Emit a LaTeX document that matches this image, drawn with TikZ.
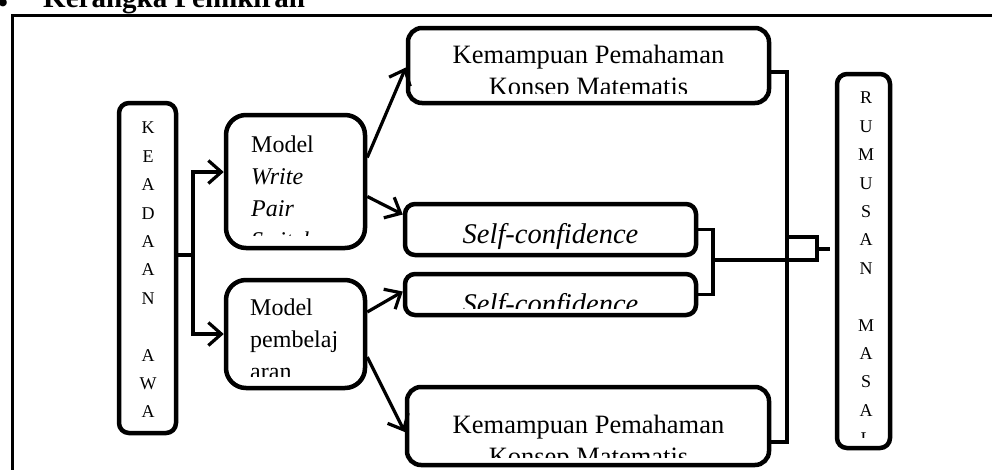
\documentclass[tikz,border=0pt]{standalone}
\usepackage{fontspec}
\setmainfont{Liberation Serif}
\usetikzlibrary{arrows.meta, positioning, calc}

\begin{document}
\begin{tikzpicture}[x=1pt, y=-1pt,
    kotak/.style={draw, line width=4.5pt, rounded corners=14pt, inner sep=0pt},
    garis/.style={line width=3.2pt},
    panah/.style={line width=3.2pt, -{Straight Barb[length=13pt, width=23pt]}},
    huruf/.style={align=center, inner sep=0pt, font=\fontsize{18}{28.4}\selectfont},
    isi/.style={inner sep=0pt, font=\fontsize{24}{32}\selectfont},
    isibesar/.style={align=center, inner sep=0pt, font=\fontsize{26.5}{32}\selectfont},
    isisc/.style={inner sep=0pt, font=\itshape\fontsize{28.5}{30}\selectfont}]
    \clip (0,0) rectangle (992,469);

    % judul (terpotong di atas)
    \node[anchor=base, inner sep=0pt, font=\fontsize{29}{30}\selectfont\bfseries] (bullet) at (3,12) {•};
    \node[anchor=base west, inner sep=0pt, font=\fontsize{29}{30}\selectfont\bfseries] (judul) at (43,7) {Kerangka Pemikiran};
    \draw[line width=3pt] (12,480) -- (12,15) -- (1000,15);

    % keadaan awal
    \node[kotak, rounded corners=10pt, minimum width=57pt, minimum height=330pt] (keadaan) at (147.5,268) {};
    \node[huruf, anchor=north] (txtkeadaan) at (148,122) {K\\E\\A\\D\\A\\A\\N\\~\\A\\W\\A};

    % dua model
    \node[kotak, rounded corners=20pt, minimum width=139pt, minimum height=133pt] (model1) at (295.5,181.5) {};
    \begin{scope}
        \clip (model1.north west) rectangle (369,235);
        \node[isi, anchor=north west, align=left] (txtmodel1) at (251,135.3) {Model\\\textit{Write}\\\textit{Pair}\\\textit{Switch}};
    \end{scope}
    \node[kotak, rounded corners=20pt, minimum width=139pt, minimum height=108pt] (model2) at (295.5,334) {};
    \begin{scope}
        \clip (model2.north west) rectangle (369,376);
        \node[isi, anchor=north west, align=left] (txtmodel2) at (250,298.3) {Model\\pembelaj\\aran};
    \end{scope}

    % variabel
    \node[kotak, minimum width=361pt, minimum height=75pt] (kpk1) at (588.5,65.5) {};
    \begin{scope}
        \clip (kpk1.north west) rectangle (773,93);
        \node[isibesar, anchor=north] (txtkpk1) at (588.5,45) {Kemampuan Pemahaman\\Konsep Matematis};
    \end{scope}
    \node[kotak, rounded corners=10pt, minimum width=291pt, minimum height=51pt] (sc1) at (550.5,229.5) {};
    \node[isisc, anchor=base] (txtsc1) at (550.5,243) {Self-confidence};
    \node[kotak, rounded corners=10pt, minimum width=291pt, minimum height=41pt] (sc2) at (550.5,294.5) {};
    \begin{scope}
        \clip (sc2.north west) rectangle (698,308);
        \node[isisc, anchor=base] (txtsc2) at (550.5,313) {Self-confidence};
    \end{scope}
    \node[kotak, minimum width=362pt, minimum height=78pt] (kpk2) at (588,426) {};
    \begin{scope}
        \clip (kpk2.north west) rectangle (773,457);
        \node[isibesar, anchor=north] (txtkpk2) at (588.5,415) {Kemampuan Pemahaman\\Konsep Matematis};
    \end{scope}

    % rumusan masalah
    \node[kotak, rounded corners=10pt, minimum width=53pt, minimum height=374pt] (rumusan) at (863.5,261) {};
    \begin{scope}
        \clip (rumusan.north west) rectangle (892,437);
        \node[huruf, anchor=north] (txtrumusan) at (866,92) {R\\U\\M\\U\\S\\A\\N\\~\\M\\A\\S\\A\\L};
    \end{scope}

    % panah dari keadaan awal
    \coordinate (cabang) at (193,255);
    \draw[garis] (keadaan.east |- cabang) -- (cabang);
    \draw[panah] (cabang) |- ([yshift=9.5pt]model1.west);
    \draw[panah] (cabang) |- (model2.west);

    % panah dari model
    \draw[panah] ([yshift=24pt]model1.east) -- ([yshift=-2pt]kpk1.west);
    \draw[panah] ([yshift=-15pt]model1.east) -- ([yshift=15pt]sc1.west);
    \draw[panah] ([yshift=22pt]model2.east) -- ([yshift=3pt]sc2.west);
    \draw[panah] ([yshift=-23pt]model2.east) -- ([yshift=-6pt]kpk2.west);

    % penghubung ke rumusan
    \coordinate (bustop) at (787,72);
    \coordinate (busbot) at (787,442);
    \draw[garis] (kpk1.east |- bustop) -- (bustop) -- (busbot) -- (kpk2.east |- busbot);
    \coordinate (scbr) at (713,260);
    \draw[garis] (sc1.east) -| (scbr) |- (sc2.east);
    \coordinate (joinbr) at (817,260);
    \coordinate (jointop) at (817,237);
    \draw[garis] (scbr) -- (joinbr) -- (jointop) -- (jointop -| bustop);
    \coordinate (stub) at (817,249);
    \draw[garis, shorten >=5pt] (stub) -- (rumusan.west |- stub);
\end{tikzpicture}
\end{document}
